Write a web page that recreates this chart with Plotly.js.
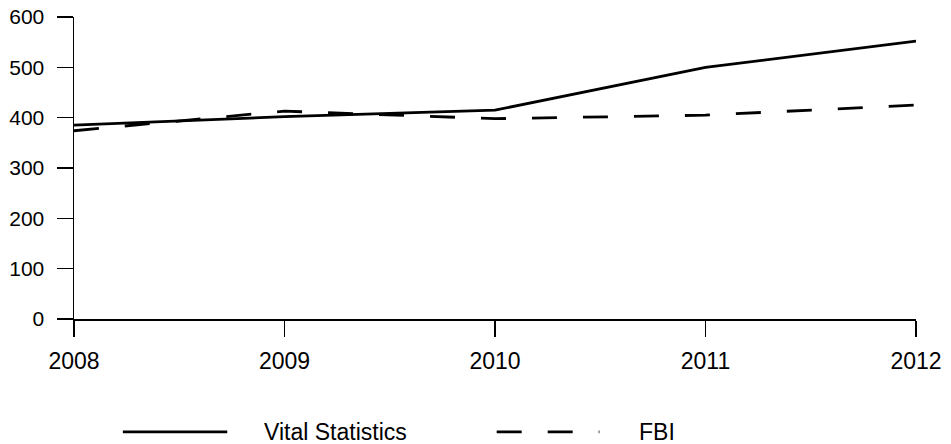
<!DOCTYPE html>
<html>
<head>
<meta charset="utf-8">
<script src="https://cdn.plot.ly/plotly-3.0.1.min.js"></script>
<style>html,body{margin:0;padding:0;background:#fff;}#chart{width:951px;height:444px;}</style>
</head>
<body>
<div id="chart"></div>
<script>
const years = [2008, 2009, 2010, 2011, 2012];
const vitalStatistics = [385, 402, 415, 500, 552];
const fbi = [374, 413, 398, 405, 425];
const seriesNames = ["Vital Statistics", "FBI"];
const yTicks = [0, 100, 200, 300, 400, 500, 600];

const traces = [
  {x: years, y: vitalStatistics, name: seriesNames[0], type: 'scatter', mode: 'lines',
   line: {color: '#000', width: 2.8}},
  {x: years, y: fbi, name: seriesNames[1], type: 'scatter', mode: 'lines',
   line: {color: '#000', width: 2.8, dash: '25px,26px'}}
];

const legY = -0.374;
const layout = {
  width: 951, height: 444,
  margin: {l: 74, r: 35, t: 17, b: 125},
  paper_bgcolor: '#fff', plot_bgcolor: '#fff',
  font: {family: 'Liberation Sans, Arial, sans-serif', color: '#000', size: 22},
  showlegend: false,
  xaxis: {range: [2008, 2012], tickvals: years, ticktext: years.map(String),
    ticks: 'outside', ticklen: 16, tickwidth: 1.5, tickcolor: '#000',
    showline: true, linecolor: '#000', linewidth: 1.5, showgrid: false, zeroline: false,
    tickfont: {size: 23}, ticklabelstandoff: 5, fixedrange: true},
  yaxis: {range: [0, 600], tickvals: yTicks, ticks: 'outside', ticklen: 16, tickwidth: 1.5,
    tickcolor: '#000', showline: true, linecolor: '#000', linewidth: 1.5, showgrid: false,
    zeroline: false, tickfont: {size: 21}, ticklabelstandoff: 8, fixedrange: true},
  shapes: [
    {type: 'line', xref: 'paper', yref: 'paper', x0: 0.058, x1: 0.182, y0: legY, y1: legY,
     line: {color: '#000', width: 2.8}},
    {type: 'line', xref: 'paper', yref: 'paper', x0: 0.502, x1: 0.624, y0: legY, y1: legY,
     line: {color: '#000', width: 2.8, dash: '25px,26px'}}
  ],
  annotations: [
    {xref: 'paper', yref: 'paper', x: 0.223, y: legY, xanchor: 'left', yanchor: 'middle',
     text: seriesNames[0], showarrow: false, font: {size: 23}},
    {xref: 'paper', yref: 'paper', x: 0.669, y: legY, xanchor: 'left', yanchor: 'middle',
     text: seriesNames[1], showarrow: false, font: {size: 23}}
  ]
};
Plotly.newPlot('chart', traces, layout, {displayModeBar: false, staticPlot: true});
</script>
</body>
</html>
